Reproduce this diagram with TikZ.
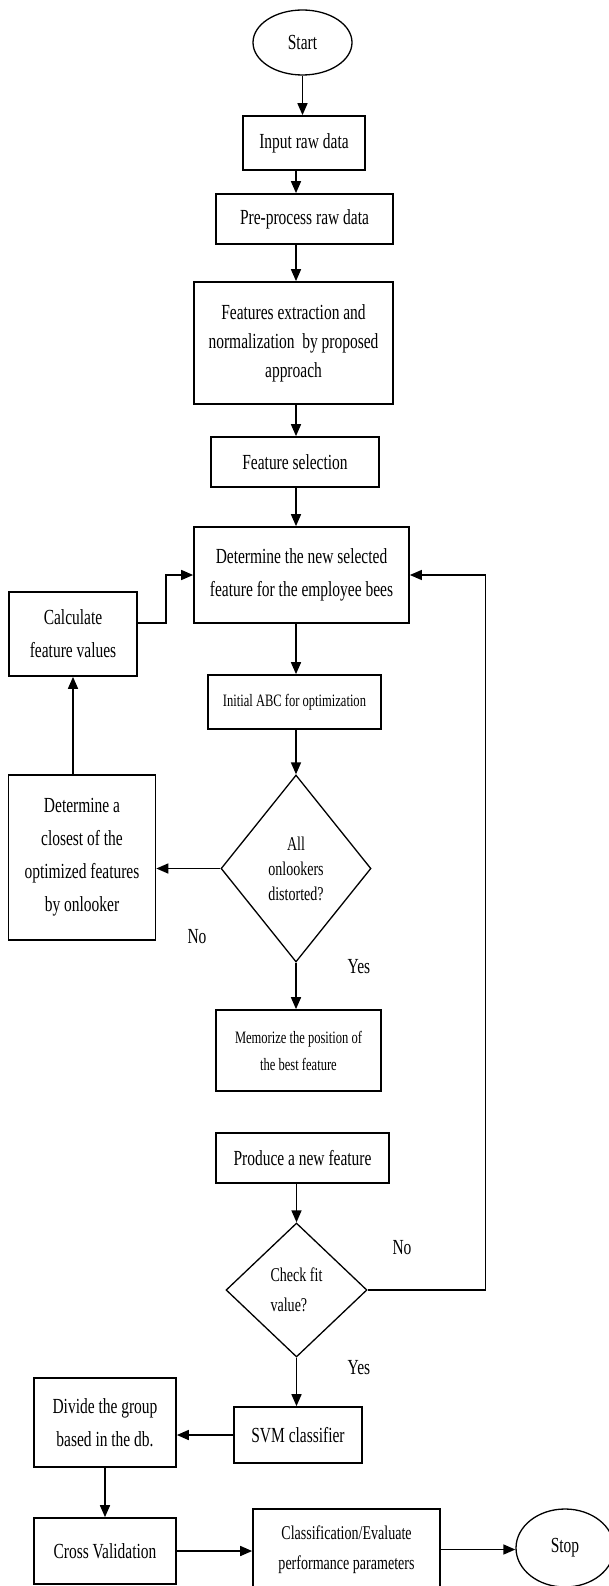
\documentclass[tikz,border=0pt]{standalone}
\usepackage{fontspec}
\setmainfont{Liberation Serif}[FakeStretch=0.72]
\usetikzlibrary{shapes}
\usetikzlibrary{arrows.meta}

\begin{document}
\begin{tikzpicture}[x=1pt,y=-1pt]

\tikzstyle{every node}=[font=\fontsize{21.5}{33}\selectfont]
\tikzstyle{box}=[draw, line width=1.7pt, inner sep=0pt, align=center]
\tikzstyle{small}=[font=\fontsize{17.4}{27}\selectfont]
\tikzstyle{mid}=[font=\fontsize{19.5}{30}\selectfont]
\tikzstyle{term}=[draw, ellipse, line width=1.3pt, inner sep=0pt]
\tikzstyle{decide}=[draw, diamond, line width=1.3pt, inner sep=0pt, align=center]
\tikzstyle{arr}=[-{Triangle[length=12pt,width=10pt]}, line width=1.6pt]

\useasboundingbox (0,0) rectangle (609,1586);
\coordinate (axis) at (296,0);

% main column
\node[term, minimum width=99pt, minimum height=65pt] (start) at (302.5,42.5) {Start};
\node[box, minimum width=122pt, minimum height=54pt] (input) at (304,143) {Input raw data};
\node[box, minimum width=177pt, minimum height=50pt] (preproc) at (304.5,219) {Pre-process raw data};
\node[box, minimum width=199pt, minimum height=122pt,
	font=\fontsize{21.5}{29}\selectfont] (extract) at (293.5,343)
	{Features extraction and\\ normalization \ by proposed\\ approach};
\node[box, minimum width=168pt, minimum height=50pt] (select) at (295,462) {Feature selection};
\node[box, minimum width=215pt, minimum height=96pt] (determine) at (301.5,575)
	{Determine the new selected\\ feature for the employee bees};
\node[box, small, minimum width=173pt, minimum height=54pt] (initabc) at (294.5,702)
	{Initial ABC for optimization};
\node[decide, mid, font=\fontsize{19.5}{25}\selectfont, minimum width=150pt, minimum height=187pt]
	(onlook) at (296,868.5) {All\\ onlookers\\ distorted?};
\node[box, small, minimum width=165pt, minimum height=81pt] (memorize) at (298.5,1050.5)
	{Memorize the position of\\ the best feature};
\node[box, minimum width=173pt, minimum height=50pt] (produce) at (302.5,1158) {Produce a new feature};
\node[decide, mid, align=left, minimum width=141pt, minimum height=134pt]
	(checkfit) at (296.5,1290) {Check fit\\ value?};
\node[box, minimum width=128pt, minimum height=56pt] (svm) at (298,1435) {SVM classifier};

% left side
\node[box, minimum width=128pt, minimum height=84pt] (calc) at (73,634) {Calculate\\ feature values};
\node[box, minimum width=147pt, minimum height=165pt] (closest) at (82,857.5)
	{Determine a\\ closest of the\\ optimized features\\ by onlooker};
\node[box, minimum width=142pt, minimum height=89pt] (divide) at (105,1422.5)
	{Divide the group\\ based in the db.};
\node[box, minimum width=142pt, minimum height=66pt] (crossval) at (105,1551) {Cross Validation};
\node[box, mid, minimum width=187pt, minimum height=81pt] (classify) at (346.5,1549.5)
	{Classification/Evaluate\\ performance parameters};
\node[term, minimum width=98pt, minimum height=78pt] (stop) at (565,1548) {Stop};

% labels
\node (no1) at (197,937) {No};
\node (yes1) at (359,967) {Yes};
\node (no2) at (402,1248) {No};
\node (yes2) at (359,1368) {Yes};

\draw[arr] (start.south) -- (start.south |- input.north);
\draw[arr] (input.south -| axis) -- (preproc.north -| axis);
\draw[arr] (preproc.south -| axis) -- (extract.north -| axis);
\draw[arr] (extract.south -| axis) -- (select.north -| axis);
\draw[arr] (select.south -| axis) -- (determine.north -| axis);
\draw[arr] (determine.south -| axis) -- (initabc.north -| axis);
\draw[arr] (initabc.south -| axis) -- (onlook.north);
\draw[arr] (onlook.west) -- (onlook.west -| closest.east);
\draw[arr] (closest.north -| calc) -- (calc.south);
\draw[arr] ([yshift=11pt]calc.east) -- ++(28,0) |- (determine.west);
\draw[arr] (onlook.south -| axis) -- (memorize.north -| axis);
\draw[arr] (produce.south -| checkfit) -- (checkfit.north);
\draw[-{Triangle[length=12pt,width=10pt]}, line width=1.3pt]
	(checkfit.east) -- ++(118,0) |- (determine.east);
\draw[arr] (checkfit.south) -- (checkfit.south |- svm.north);
\draw[arr] (svm.west) -- (svm.west -| divide.east);
\draw[arr] (divide.south) -- (crossval.north);
\draw[arr] (crossval.east) -- (crossval.east -| classify.west);
\draw[arr] (classify.east) -- (classify.east -| stop.west);
%\draw[help lines, step=50] (0,0) grid (609,1586);
\end{tikzpicture}
\end{document}
